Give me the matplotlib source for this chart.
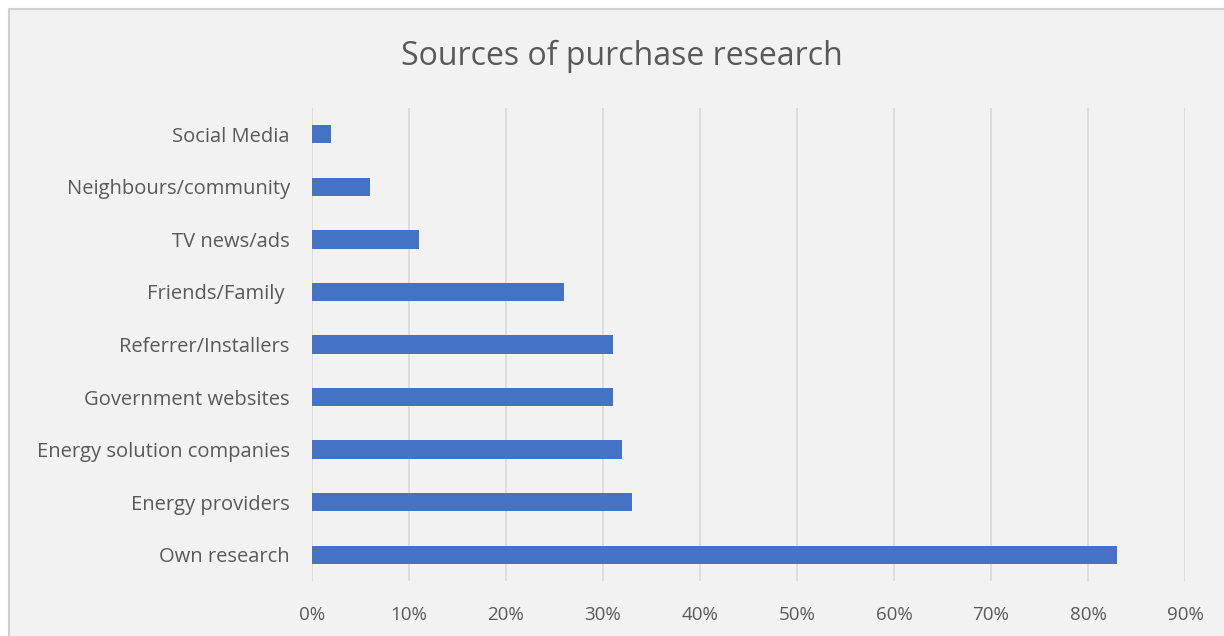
import matplotlib.pyplot as plt
from matplotlib.patches import Rectangle
from matplotlib.ticker import PercentFormatter

categories = ["Own research", "Energy providers", "Energy solution companies",
              "Government websites", "Referrer/Installers", "Friends/Family ",
              "TV news/ads", "Neighbours/community", "Social Media"]
values = [83, 33, 32, 31, 31, 26, 11, 6, 2]
xticks = [0, 10, 20, 30, 40, 50, 60, 70, 80, 90]

plt.rcParams['font.family'] = ['Open Sans', 'DejaVu Sans']
txt = '#595959'
bg = '#f2f2f2'

fig = plt.figure(figsize=(12.24, 6.36), dpi=100)
fig.patch.set_facecolor('white')
fig.patches.append(Rectangle((9/1224, -0.1), 1.2, 1 - 9/636 + 0.1,
                             transform=fig.transFigure, facecolor=bg,
                             edgecolor='#d0d0d0', linewidth=1.5, zorder=-10))

ax = fig.add_axes([312/1224, 1 - 581/636, (1185 - 312)/1224, (581 - 108)/636])
ax.set_facecolor(bg)
ax.barh(range(len(categories)), values, height=0.35, color='#4472c4', zorder=3)
ax.set_yticks(range(len(categories)))
ax.set_yticklabels(categories)
ax.set_ylim(-0.5, len(categories) - 0.5)
ax.set_xlim(0, 90)
ax.set_xticks(xticks)
ax.xaxis.set_major_formatter(PercentFormatter(decimals=0))
ax.grid(axis='x', color='#d9d9d9', linewidth=1.2, zorder=0)
for s in ax.spines.values():
    s.set_visible(False)
ax.tick_params(length=0, colors=txt)
ax.tick_params(axis='x', pad=18, labelsize=13.5)
ax.tick_params(axis='y', pad=16, labelsize=14.5)

fig.text(622/1224, 1 - 56/636, "Sources of purchase research", ha='center',
         va='center', fontsize=23, color=txt)

fig.savefig("out.png", dpi=100, facecolor=fig.get_facecolor())
